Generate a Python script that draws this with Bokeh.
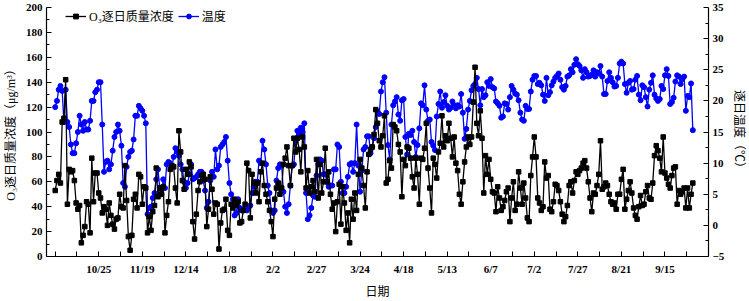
import pandas as pd
from bokeh.plotting import figure
from bokeh.models import Range1d, LinearAxis, FixedTicker, Legend, LegendItem
from bokeh.embed import file_html
from bokeh.resources import INLINE

start_date = "2018-09-30"

o3 = [
    53, 61, 66, 59, 108, 111, 142, 42, 70, 68, 69, 61, 43, 38, 41, 11, 17, 24, 44, 42, 19, 79, 44, 67, 67,
    51, 47, 35, 40, 38, 25, 43, 33, 26, 22, 30, 31, 50, 40, 39, 73, 45, 16,
    5, 17, 46, 50, 39, 66, 64, 42, 56, 55, 19, 32, 21, 36, 41, 71, 48, 55, 50, 56, 19, 33, 44, 70, 73, 72, 55, 43,
    101, 84, 61, 54, 70, 66, 76, 72, 28, 14, 34, 53, 60, 65, 66, 62, 24, 38, 64,
    54, 34, 43, 42, 6, 27, 37, 38, 46, 21, 17, 42, 39, 46, 41, 44, 27, 28, 37, 42, 75, 69, 31, 66, 59, 51, 59,
    44, 68, 75, 57, 50, 44, 37, 28, 16, 46, 55, 59, 50, 55, 74, 79, 88, 73, 57, 73, 95,
    84,
    95, 86, 68, 96, 88, 55, 69, 51, 56, 61, 52, 78, 47, 74, 51, 60, 87, 60, 68, 50, 38, 43, 20, 44, 58, 26, 56,
    43, 21, 35, 11, 46, 30, 51, 37, 66, 78, 71, 57, 39, 68, 82, 86, 88, 98, 118,
    107, 93, 88, 97, 113, 59, 62, 77, 71, 106, 104, 101, 90, 84, 48, 78, 73, 88, 87, 79, 64, 55, 79, 66, 42,
    79, 78, 87, 107, 71, 55, 35, 79, 74, 63, 84, 91, 113, 88, 97, 93, 107, 95, 80, 96, 75,
    69, 50, 42, 60, 76, 88, 96, 90, 96, 124, 152, 107, 97, 117, 95, 51, 81, 66, 78, 62, 52, 51, 36, 56, 47,
    37, 40, 45, 52, 55, 28, 47, 60, 37, 42, 68, 55, 42, 59, 47, 31, 28, 65, 80, 96, 80, 47,
    43, 37, 40, 76, 63, 65, 38, 36, 44, 58, 57, 53, 44, 34, 28, 32, 41, 57, 60, 51, 61, 68, 66, 69, 71,
    75, 77, 71, 60, 47, 36, 51, 50, 57, 66, 93, 54, 56, 59, 57, 50, 44, 42, 43, 38, 50,
    50, 62, 70, 38, 46, 53, 60, 51, 39, 33, 30, 40, 49, 41, 42, 52, 57, 47, 46, 59, 81, 89, 85, 79, 68,
    96, 67, 63, 58, 55, 65, 71, 72, 42, 53, 50, 52, 55, 39, 55, 39, 50, 59,
]

temp = [
    19.0, 20.0, 21.8, 22.4, 21.6, 16.6, 21.8, 16.6, 15.8, 13.0, 11.6, 11.6, 13.2, 15.0, 17.6, 16.2, 15.2,
    16.6, 15.4, 15.4, 16.8, 20.0, 20.0, 21.4, 21.8, 23.0, 23.0, 16.2, 8.6, 10.2, 10.4, 9.0, 9.8, 12.0,
    14.2, 15.0, 16.2, 15.2, 12.8, 6.8, 6.2, 9.4, 11.0, 11.8, 12.0,
    13.8, 17.6, 17.6, 19.2, 18.8, 18.4, 17.6, 16.4, 1.8,
    2.8, 3.0, 4.4, 5.2, 7.4, 9.0, 6.0, 5.0, 7.4, 6.0, 9.8, 10.2, 10.0, 9.4, 11.0, 12.4, 11.8, 11.2, 9.8,
    9.0, 7.0, 6.0, 6.8, 8.2, 9.8, 7.4, 7.6, 7.8, 8.2, 8.6, 8.6, 7.2, 5.6, 2.8, 3.8, 7.2,
    8.6, 7.8, 12.2, 9.0, 9.6, 12.6, 13.0, 13.4, 14.2, 10.4, 6.8, 5.0, 4.2, 1.6, 2.0, 4.2, 2.8, 2.4, 2.4,
    2.8, 2.4, 3.0, 3.2, 5.2, 6.2, 7.0, 7.0, 10.4, 10.0, 13.6, 12.2, 9.8, 6.4, 5.2, 2.4, 2.0, 2.4, 7.2,
    9.2, 9.8, 9.6, 5.4, 3.0, 2.0, 3.4, 6.4, 9.6, 9.8,
    13.6, 15.2, 14.7, 15.7, 15.0, 16.4, 5.2, 1.0, 1.6, 2.8, 4.8, 4.6, 8.0, 9.8, 10.6, 10.4, 8.2, 8.2,
    7.0, 6.2, 6.4, 6.4, 9.0, 9.0, 13.0, 12.6, 7.0, 5.2, 5.2, 6.2, 7.8, 9.8, 10.0, 8.6, 10.0, 16.2, 9.6,
    5.4, 8.8, 12.2, 12.6, 14.3, 14.3, 11.6, 12.6, 14.0, 15.8,
    18.3, 17.9, 21.5, 23.0, 23.8, 18.1, 12.9, 10.6, 16.2, 19.3, 19.9, 20.6, 17.8, 16.8, 20.1, 20.3, 14.2,
    11.4, 14.7, 14.5, 15.2, 13.4, 11.0, 12.9, 15.6, 19.6, 19.3, 22.5, 18.6, 16.8, 17.0, 13.4, 12.8, 12.1,
    17.5, 19.5, 21.5, 18.9, 19.8, 20.9, 19.2, 18.6, 18.9, 19.9, 19.3, 18.8,
    19.3, 19.1, 21.1, 18.1, 13.9, 15.5, 18.6, 20.0, 21.7, 22.4, 22.7, 23.7, 21.9, 19.3, 21.9, 20.6, 20.9,
    23.0, 22.4, 23.5, 22.2, 22.0, 19.9, 19.6, 19.2, 17.3, 17.5, 19.6, 19.5, 18.6, 20.6, 22.4, 21.8, 21.2,
    21.0, 20.1, 18.1, 17.0, 16.8, 19.2, 18.7, 18.7, 21.5, 23.4, 24.0, 24.0, 22.7,
    22.9, 22.5, 21.0, 20.0, 23.7, 20.9, 21.4, 22.5, 23.1, 23.7, 24.0, 24.4, 23.4, 22.2, 21.8, 22.4, 23.9,
    24.1, 25.1, 24.6, 25.8, 26.7, 25.9, 25.6, 24.9, 23.7, 25.1, 24.6, 23.9, 24.0, 24.2, 24.9, 23.9, 24.6,
    24.4, 25.6, 23.9, 21.1, 21.1, 23.2, 24.6, 23.7, 23.0, 22.3, 22.4, 23.7,
    26.0, 26.3, 26.0, 22.7, 21.3, 22.9, 23.2, 21.8, 21.9, 23.4, 24.0, 21.0, 20.1, 22.5, 22.2, 20.6, 19.1,
    21.8, 22.9, 24.1, 21.0, 20.4, 20.0, 20.3, 22.4, 21.9, 24.1, 25.1, 24.0, 19.5, 19.8, 20.5, 23.1, 24.1,
    23.9, 22.7, 23.5, 23.9, 18.4, 20.8, 20.6, 22.8, 15.3,
]

tick_dates = ["2018-10-25", "2018-11-19", "2018-12-14", "2019-01-08", "2019-02-02", "2019-02-27",
              "2019-03-24", "2019-04-18", "2019-05-13", "2019-06-07", "2019-07-02", "2019-07-27",
              "2019-08-21", "2019-09-15"]
tick_labels = ["10/25", "11/19", "12/14", "1/8", "2/2", "2/27", "3/24", "4/18", "5/13", "6/7",
               "7/2", "7/27", "8/21", "9/15"]
o3_ticks = [0, 20, 40, 60, 80, 100, 120, 140, 160, 180, 200]
temp_ticks = [-5, 0, 5, 10, 15, 20, 25, 30, 35]

o3_label = "O₃逐日质量浓度（μg/m³）"
temp_label = "逐日温度（℃）"
x_label = "日期"
legend_o3 = "O₃逐日质量浓度"
legend_t = "温度"

dates_o3 = pd.date_range(start_date, periods=len(o3))
dates_t = pd.date_range(start_date, periods=len(temp))

DAY = 86400000.0
def ms(s):
    return pd.Timestamp(s).value / 1e6

first_major = ms(tick_dates[0])
all_ticks = [first_major - 25 * DAY + k * 12.5 * DAY for k in range(30)]
label_map = {ms(d): l for d, l in zip(tick_dates, tick_labels)}
overrides = {}
for t in all_ticks:
    overrides[t] = label_map.get(t, "")

NUM_FONT = "Liberation Serif"
CJK_FONT = "Liberation Serif, Noto Sans CJK SC"

p = figure(width=749, height=301, output_backend="svg", toolbar_location=None,
           x_axis_type="datetime",
           x_range=Range1d(pd.Timestamp(start_date) - pd.Timedelta(days=5),
                           pd.Timestamp(start_date) + pd.Timedelta(days=375)),
           y_range=Range1d(0, 200),
           min_border_left=41, min_border_right=31, min_border_top=7, min_border_bottom=35)
p.extra_y_ranges = {"temp": Range1d(-5, 35)}
p.outline_line_color = None
p.xgrid.visible = False
p.ygrid.visible = False
p.background_fill_color = "white"
p.border_fill_color = "white"

ln_o3 = p.line(dates_o3, o3, line_color="black", line_width=1.3)
sc_o3 = p.scatter(dates_o3, o3, marker="square", size=4.5, fill_color="black", line_color="black")
ln_t = p.line(dates_t, temp, line_color="#0000ff", line_width=1.3, y_range_name="temp")
sc_t = p.scatter(dates_t, temp, marker="circle", size=5, fill_color="#0000ff", line_color="#0000ff",
                 y_range_name="temp")
# draw O3 on top
p.renderers = [ln_t, sc_t, ln_o3, sc_o3]

xa = p.xaxis[0]
xa.ticker = FixedTicker(ticks=all_ticks, minor_ticks=[])
xa.major_label_overrides = overrides
xa.axis_label = x_label

ya = p.yaxis[0]
ya.ticker = FixedTicker(ticks=o3_ticks, minor_ticks=[t + 10 for t in o3_ticks[:-1]])
ya.axis_label = o3_label

ra = LinearAxis(y_range_name="temp", axis_label=temp_label,
                ticker=FixedTicker(ticks=temp_ticks, minor_ticks=[t + 2.5 for t in temp_ticks[:-1]]))
p.add_layout(ra, "right")

for ax in (xa, ya, ra):
    ax.axis_line_color = "black"
    ax.axis_line_width = 1.2
    ax.major_tick_line_color = "black"
    ax.minor_tick_line_color = "black"
    ax.major_tick_in = 5
    ax.major_tick_out = 0
    ax.minor_tick_in = 3
    ax.minor_tick_out = 0
    ax.major_label_text_font = NUM_FONT
    ax.major_label_text_font_style = "bold"
    ax.major_label_text_font_size = "11px"
    ax.major_label_text_color = "black"
    ax.axis_label_text_font = CJK_FONT
    ax.axis_label_text_font_style = "normal"
    ax.axis_label_text_font_size = "12px"
    ax.axis_label_text_color = "black"
    ax.major_label_standoff = 4
    ax.axis_label_standoff = 5
xa.minor_tick_in = 0
xa.major_label_standoff = 6
xa.axis_label_standoff = 7

legend = Legend(items=[LegendItem(label=legend_o3, renderers=[ln_o3, sc_o3]),
                       LegendItem(label=legend_t, renderers=[ln_t, sc_t])],
                orientation="horizontal", location=(17, 229),
                background_fill_alpha=0, border_line_alpha=0,
                label_text_font=CJK_FONT, label_text_font_size="12px", label_text_color="black",
                label_height=14, glyph_width=21, glyph_height=12, label_standoff=3, spacing=4,
                padding=2, margin=0)
p.add_layout(legend)

open("out.html", "w").write(file_html(p, INLINE))
